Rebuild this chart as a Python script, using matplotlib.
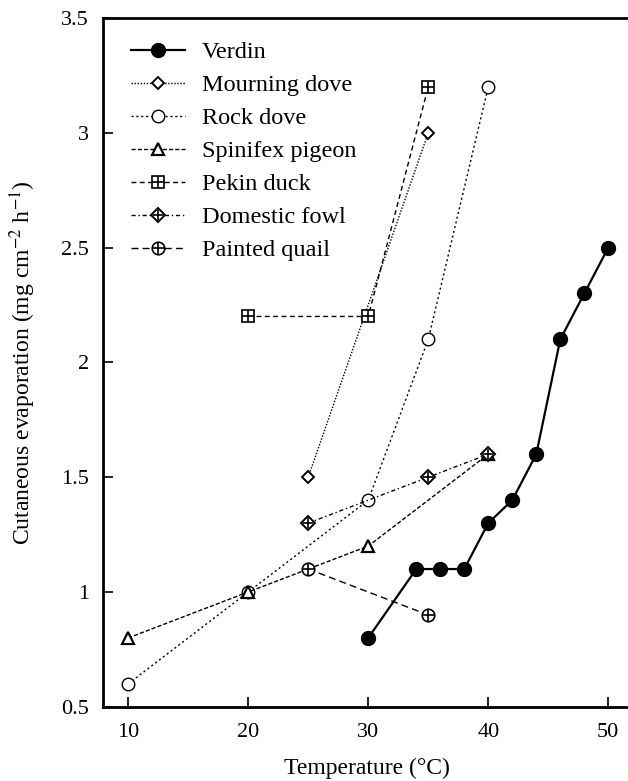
import matplotlib.pyplot as plt

plt.rcParams['font.family'] = ['Liberation Serif', 'DejaVu Serif']
plt.rcParams['mathtext.fontset'] = 'stix'

# data
verdin_x = [30, 34, 36, 38, 40, 42, 44, 46, 48, 50]
verdin_y = [0.8, 1.1, 1.1, 1.1, 1.3, 1.4, 1.6, 2.1, 2.3, 2.5]
mourning_x = [25, 35]
mourning_y = [1.5, 3.0]
rock_x = [10, 20, 30, 35, 40]
rock_y = [0.6, 1.0, 1.4, 2.1, 3.2]
spinifex_x = [10, 20, 30, 40]
spinifex_y = [0.8, 1.0, 1.2, 1.6]
pekin_x = [20, 30, 35]
pekin_y = [2.2, 2.2, 3.2]
fowl_x = [25, 35, 40]
fowl_y = [1.3, 1.5, 1.6]
quail_x = [25, 35]
quail_y = [1.1, 0.9]

fig = plt.figure(figsize=(6.28, 7.81), dpi=100)
ax = fig.add_axes([0.164, 0.095, 0.839, 0.882])

handles = []
labels = []

h, = ax.plot(verdin_x, verdin_y, '-', color='black', lw=1.6, marker='o',
             ms=10, mfc='black', mec='black', zorder=5)
handles.append(h); labels.append('Verdin')

h, = ax.plot(mourning_x, mourning_y, linestyle=(0, (1, 1.2)), color='black', lw=1,
             marker='D', ms=6, mfc='white', mec='black', mew=1.4)
handles.append(h); labels.append('Mourning dove')

h, = ax.plot(rock_x, rock_y, linestyle=(0, (1.5, 2)), color='black', lw=1,
             marker='o', ms=9, mfc='white', mec='black', mew=1)
handles.append(h); labels.append('Rock dove')

h, = ax.plot(spinifex_x, spinifex_y, linestyle=(0, (3, 1.5)), color='black', lw=1,
             marker='^', ms=9, mfc='white', mec='black', mew=1.6)
handles.append(h); labels.append('Spinifex pigeon')

h1, = ax.plot(pekin_x, pekin_y, linestyle=(0, (3.5, 2.5)), color='black', lw=1,
              marker='s', ms=8.5, mfc='white', mec='black', mew=1.2)
h2, = ax.plot(pekin_x, pekin_y, linestyle='none', marker='+', ms=8.5, mec='black', mew=1.2)
handles.append((h1, h2)); labels.append('Pekin duck')

h1, = ax.plot(fowl_x, fowl_y, linestyle=(0, (3, 2, 1, 2)), color='black', lw=1,
              marker='D', ms=7, mfc='white', mec='black', mew=1.4)
h2, = ax.plot(fowl_x, fowl_y, linestyle='none', marker='+', ms=7, mec='black', mew=1.2)
handles.append((h1, h2)); labels.append('Domestic fowl')

h1, = ax.plot(quail_x, quail_y, linestyle=(0, (5, 3)), color='black', lw=1,
              marker='o', ms=9, mfc='white', mec='black', mew=1.2)
h2, = ax.plot(quail_x, quail_y, linestyle='none', marker='+', ms=9, mec='black', mew=1.2)
handles.append((h1, h2)); labels.append('Painted quail')

ax.legend(handles, labels, loc='upper left', frameon=False, fontsize=17.5,
          handlelength=2.2, handletextpad=0.7, labelspacing=0.45,
          borderaxespad=0, bbox_to_anchor=(0.035, 0.98))

ax.set_xlim(7.9, 51.8)
ax.set_ylim(0.5, 3.5)
ax.set_xticks([10, 20, 30, 40, 50])
ax.set_yticks([0.5, 1, 1.5, 2, 2.5, 3, 3.5])
ax.set_yticklabels(['0.5', '1', '1.5', '2', '2.5', '3', '3.5'])
ax.tick_params(direction='in', length=7, width=1.2, labelsize=16)
ax.tick_params(axis='x', pad=12)
ax.tick_params(axis='y', pad=10)
ax.spines['right'].set_visible(False)
for s in ['left', 'bottom', 'top']:
    ax.spines[s].set_linewidth(2)

ax.set_xlabel('Temperature (°C)', fontsize=17, labelpad=11)
ax.set_ylabel(r'Cutaneous evaporation (mg cm$^{-2}$ h$^{-1}$)', fontsize=17, labelpad=17)

fig.savefig('out.png', dpi=100)
